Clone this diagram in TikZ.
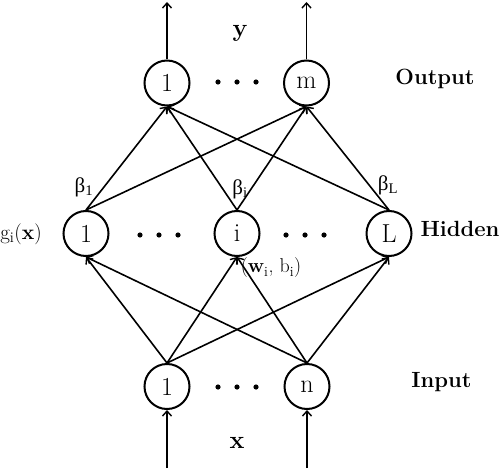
\documentclass[tikz,border=0pt]{standalone}
\usepackage{fontspec}
\newfontfamily\grk{Liberation Serif}
\usetikzlibrary{arrows.meta}
\tikzset{
  neuron/.style={circle,draw,line width=2pt,minimum size=45pt,inner sep=0pt,font=\fontsize{26}{28}\selectfont},
  conn/.style={line width=1.6pt,-{Straight Barb[length=5pt,width=9pt,line width=1.4pt]}},
  layerlab/.style={font=\fontsize{22}{26}\selectfont\bfseries,inner sep=0pt},
  wlab/.style={font=\fontsize{21}{24}\selectfont\grk,inner sep=0pt},
  dot/.style={fill=black}
}
\begin{document}
\begin{tikzpicture}[x=1pt,y=-1pt]
\useasboundingbox (0,0) rectangle (500,468);
% nodes
\node[neuron] (o1) at (167,83) {1};
\node[neuron] (om) at (306.5,83) {m};
\node[neuron] (h1) at (86,233.5) {1};
\node[neuron] (hi) at (237,233.5) {i};
\node[neuron] (hL) at (389,233.5) {L};
\node[neuron] (n1) at (167,386.5) {1};
\node[neuron] (nn) at (307,386.5) {n};
% end coordinates
\coordinate (y1) at (167,2);
\coordinate (ym) at (306.5,2);
\coordinate (x1) at (167,468);
\coordinate (xn) at (307,468);
% output/input arrows
\draw[conn] (o1.north) -- (y1);
\draw[conn] (om.north) -- (ym);
\draw[conn] (x1) -- (n1.south);
\draw[conn] (xn) -- (nn.south);
% input -> hidden
\foreach \s in {n1,nn}
  \foreach \t in {h1,hi,hL}
    \draw[conn] (\s.north) -- (\t.south);
% hidden -> output
\foreach \s in {h1,hi,hL}
  \foreach \t in {o1,om}
    \draw[conn] (\s.north) -- (\t.south);
% dots
\foreach \cx/\cy in {237/82, 159/235, 305/235, 237/387}{
  \fill[dot] (\cx-19,\cy) circle (2.6);
  \fill[dot] (\cx,\cy) circle (2.6);
  \fill[dot] (\cx+19,\cy) circle (2.6);
}
% labels
\node[layerlab] (lout) at (435,79) {Output};
\node[layerlab] (lhid) at (460,229) {Hidden};
\node[layerlab] (lin) at (441.5,382) {Input};
\node[font=\fontsize{25}{28}\selectfont\bfseries] (ylab) at (240,33) {y};
\node[font=\fontsize{25}{28}\selectfont\bfseries] (xlab) at (237,443) {x};
\node[wlab] (b1) at (84,187) {β\textsubscript{1}};
\node[wlab] (bi) at (240,189) {β\textsubscript{i}};
\node[wlab] (bL) at (388,185) {β\textsubscript{L}};
\node[font=\fontsize{21}{24}\selectfont,inner sep=0pt] (gl) at (21,234) {g\textsubscript{i}(\textbf{x})};
\node[font=\fontsize{20}{22}\selectfont,inner sep=0pt] (wb) at (271,268) {(\textbf{w}\textsubscript{i}, b\textsubscript{i})};
\end{tikzpicture}
\end{document}
